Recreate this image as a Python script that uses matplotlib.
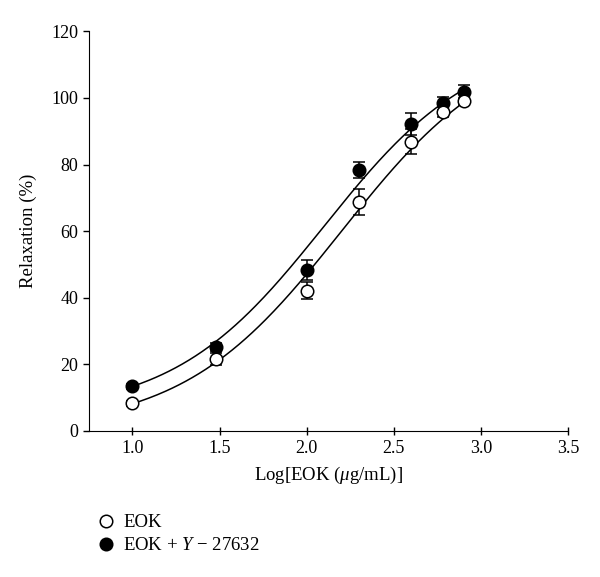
import numpy as np
import matplotlib.pyplot as plt

plt.rcParams['font.family'] = ['Liberation Serif', 'DejaVu Serif']
plt.rcParams['mathtext.fontset'] = 'custom'
plt.rcParams['mathtext.it'] = 'Liberation Serif:italic'
plt.rcParams['mathtext.rm'] = 'Liberation Serif'

# log concentration of EOK
log_conc = [1.0, 1.48, 2.0, 2.3, 2.6, 2.78, 2.9]

# relaxation (%) mean and error
eok_mean = [8.2, 21.6, 42.1, 68.7, 86.9, 95.9, 99.0]
eok_err = [0.8, 1.8, 2.5, 3.8, 3.7, 1.5, 1.0]
eok_y_mean = [13.3, 25.3, 48.3, 78.4, 92.2, 98.4, 101.8]
eok_y_err = [0.8, 1.2, 3.0, 2.5, 3.2, 2.0, 2.0]

# logistic fit parameters: bottom, top, logEC50, hill
eok_fit = [0.0, 120.0, 2.2, 0.95]
eok_y_fit = [5.0, 118.0, 2.1, 1.0]

x_ticks = [1.0, 1.5, 2.0, 2.5, 3.0, 3.5]
y_ticks = [0, 20, 40, 60, 80, 100, 120]


def logistic(x, b, t, c, h):
    return b + (t - b) / (1.0 + 10 ** ((c - x) * h))


fig = plt.figure(figsize=(6.0, 5.77), dpi=100)
ax = fig.add_axes([0.148, 0.2535, 0.799, 0.692])

xs = np.linspace(log_conc[0], log_conc[-1], 200)
for p in (eok_fit, eok_y_fit):
    ax.plot(xs, logistic(xs, *p), color='black', lw=1.1, zorder=1)

ax.errorbar(log_conc, eok_mean, yerr=eok_err, fmt='o', mfc='white', mec='black',
            ecolor='black', ms=9, mew=1.1, elinewidth=1.1, capsize=4, capthick=1.1,
            zorder=3, label='EOK')
ax.errorbar(log_conc, eok_y_mean, yerr=eok_y_err, fmt='o', mfc='black', mec='black',
            ecolor='black', ms=9, mew=1.1, elinewidth=1.1, capsize=4, capthick=1.1,
            zorder=2, label='EOK + $Y$ $-$ 27632')

ax.set_xlim(0.75, 3.5)
ax.set_ylim(0, 120)
ax.set_xticks(x_ticks)
ax.set_xticklabels(['%.1f' % t for t in x_ticks])
ax.set_yticks(y_ticks)
ax.spines['top'].set_visible(False)
ax.spines['right'].set_visible(False)
ax.tick_params(axis='both', labelsize=13, width=1, length=4)
ax.tick_params(axis='x', direction='inout', length=6)

ax.set_xlabel('Log[EOK ($\\mu$g/mL)]', fontsize=13.5, labelpad=6)
ax.set_ylabel('Relaxation (%)', fontsize=13.5, labelpad=10)

handles, labels = ax.get_legend_handles_labels()
handles = [h[0] for h in handles]
fig.legend(handles, labels, loc='upper left', bbox_to_anchor=(0.13, 0.138),
           frameon=False, fontsize=13.5, handletextpad=0.3, labelspacing=0.3,
           handlelength=1.2)

fig.savefig('out.png', dpi=100)
